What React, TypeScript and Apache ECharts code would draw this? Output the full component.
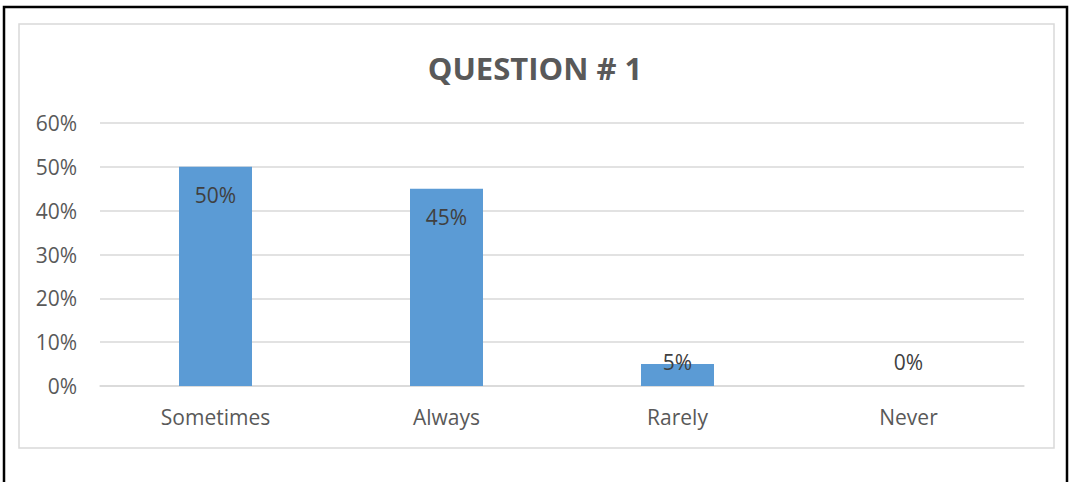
import React, { useEffect, useRef } from "react";
import * as echarts from "echarts";

const categories = ["Sometimes", "Always", "Rarely", "Never"];
const values = [50, 45, 5, 0];
const yTicks = { min: 0, max: 60, interval: 10 };
const title = "QUESTION # 1";

const FONT = "'Open Sans', sans-serif";

export default function App() {
  const ref = useRef<HTMLDivElement>(null);
  useEffect(() => {
    document.body.style.margin = "0";
    const chart = echarts.init(ref.current!, null, { renderer: "svg" });
    const labelFor = (v: number) => {
      if (v >= 20) return { position: "insideTop", distance: 17.5 };
      if (v > 0) return { position: "top", distance: -8.5 };
      return { position: "top", distance: 13.5 };
    };
    chart.setOption({
      animation: false,
      backgroundColor: "#ffffff",
      title: {
        text: title,
        left: "center",
        top: 47,
        textStyle: { fontFamily: FONT, fontSize: 31, fontWeight: "bold", color: "#595959" },
      },
      graphic: [
        {
          type: "rect",
          shape: { x: 4, y: 7, width: 1063, height: 490 },
          style: { fill: "none", stroke: "#000000", lineWidth: 2.5 },
          silent: true,
        },
        {
          type: "rect",
          shape: { x: 19, y: 24, width: 1035, height: 424 },
          style: { fill: "none", stroke: "#d9d9d9", lineWidth: 1.5 },
          silent: true,
        },
      ],
      grid: { left: 100, right: 46, top: 123, bottom: 96 },
      xAxis: {
        type: "category",
        data: categories,
        axisLine: { show: true, lineStyle: { color: "#d9d9d9", width: 1.5 } },
        axisTick: { show: false },
        axisLabel: { fontFamily: FONT, fontSize: 21, color: "#595959", margin: 20.5 },
      },
      yAxis: {
        type: "value",
        min: yTicks.min,
        max: yTicks.max,
        interval: yTicks.interval,
        axisLine: { show: false },
        axisTick: { show: false },
        splitLine: { lineStyle: { color: "#d9d9d9", width: 1.5 } },
        axisLabel: { formatter: "{value}%", fontFamily: FONT, fontSize: 21, color: "#595959", margin: 23 },
      },
      series: [
        {
          type: "bar",
          barWidth: "31.6%",
          itemStyle: { color: "#5b9bd5" },
          data: values.map((v) => ({
            value: v,
            label: {
              show: true,
              formatter: "{c}%",
              fontFamily: FONT,
              fontSize: 21,
              color: "#404040",
              ...labelFor(v),
            },
          })),
        },
      ],
    });
    return () => chart.dispose();
  }, []);
  return <div ref={ref} style={{ width: 1070, height: 482 }} />;
}
